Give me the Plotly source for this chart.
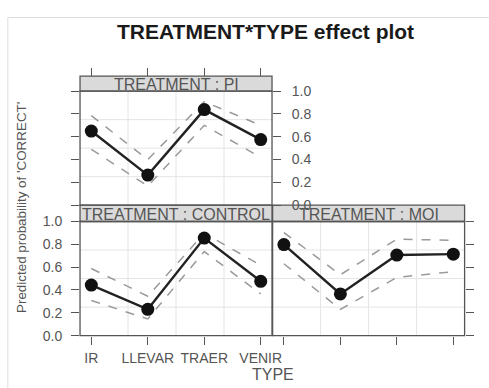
import plotly.graph_objects as go

# Effect estimates with 95% bands, per treatment and verb type
types = ["IR", "LLEVAR", "TRAER", "VENIR"]
type_pos = [1, 2, 3, 4]

pi_fit = [0.65, 0.264, 0.838, 0.575]
pi_upper = [0.785, 0.40, 0.908, 0.70]
pi_lower = [0.49, 0.168, 0.70, 0.42]

control_fit = [0.443, 0.23, 0.855, 0.476]
control_upper = [0.588, 0.345, 0.897, 0.616]
control_lower = [0.308, 0.146, 0.737, 0.365]

moi_fit = [0.798, 0.365, 0.706, 0.714]
moi_upper = [0.903, 0.533, 0.846, 0.835]
moi_lower = [0.63, 0.23, 0.51, 0.561]

y_ticks = [0.0, 0.2, 0.4, 0.6, 0.8, 1.0]

W, H = 489, 388
FONT = "Liberation Sans, Arial, sans-serif"
AX = "#555555"
TXT = "#555555"


def px(x):
    return x / W


def py(y):
    return 1 - y / H


# panel geometry in pixels
LX0, LX1 = 81.7, 277.7
RX0, RX1 = 278.3, 474.3
TOP_STRIP = (71.0, 86.7)
TOP_PANEL = (86.7, 205.7)
BOT_STRIP = (205.7, 222.7)
BOT_PANEL = (222.7, 341.7)

fig = go.Figure()


def add_panel(fit, upper, lower, xa, ya):
    for band in (upper, lower):
        fig.add_trace(go.Scatter(
            x=type_pos, y=band, mode="lines", xaxis=xa, yaxis=ya,
            line=dict(color="#9a9a9a", width=1.5, dash="dash"),
            hoverinfo="skip", showlegend=False))
    fig.add_trace(go.Scatter(
        x=type_pos, y=fit, mode="lines+markers", xaxis=xa, yaxis=ya,
        line=dict(color="#222222", width=2.4),
        marker=dict(color="#111111", size=13),
        showlegend=False))


add_panel(control_fit, control_upper, control_lower, "x", "y")
add_panel(moi_fit, moi_upper, moi_lower, "x2", "y2")
add_panel(pi_fit, pi_upper, pi_lower, "x3", "y3")

common_x = dict(range=[0.8, 4.2], tickvals=type_pos, ticktext=types,
                ticks="outside", ticklen=8, tickwidth=1.3, tickcolor=AX,
                showgrid=False, zeroline=False, showline=False,
                ticklabelstandoff=2,
                tickfont=dict(family=FONT, size=14, color=TXT))
common_y = dict(range=[0, 1], tickvals=y_ticks, tickformat=".1f",
                ticks="outside", ticklen=8, tickwidth=1.3, tickcolor=AX,
                showgrid=False, zeroline=False, showline=False,
                tickfont=dict(family=FONT, size=14, color=TXT))

fig.update_layout(
    width=W, height=H,
    margin=dict(l=0, r=0, t=0, b=0),
    paper_bgcolor="white", plot_bgcolor="white",
    xaxis=dict(common_x, domain=[px(LX0), px(LX1)], anchor="y"),
    yaxis=dict(common_y, domain=[py(BOT_PANEL[1]), py(BOT_PANEL[0])],
               anchor="x", side="left", ticklabelstandoff=6),
    xaxis2=dict(common_x, domain=[px(RX0), px(RX1)], anchor="y2",
                showticklabels=False),
    yaxis2=dict(common_y, domain=[py(BOT_PANEL[1]), py(BOT_PANEL[0])],
                anchor="x2", side="right", showticklabels=False),
    xaxis3=dict(common_x, domain=[px(LX0), px(LX1)], anchor="free",
                position=py(TOP_STRIP[0]), side="top", showticklabels=False),
    yaxis3=dict(common_y, domain=[py(TOP_PANEL[1]), py(TOP_PANEL[0])],
                anchor="x3", side="right", mirror="ticks",
                ticklabelstandoff=8),
)

shapes = []
# light background grid at quarter positions of each panel
for xa, ya in (("x", "y"), ("x2", "y2"), ("x3", "y3")):
    for f in (0.25, 0.5, 0.75):
        shapes.append(dict(type="line", xref=f"{xa} domain", yref=f"{ya} domain",
                           x0=f, x1=f, y0=0, y1=1, layer="below",
                           line=dict(color="#e4e4e4", width=1)))
        shapes.append(dict(type="line", xref=f"{xa} domain", yref=f"{ya} domain",
                           x0=0, x1=1, y0=f, y1=f, layer="below",
                           line=dict(color="#e4e4e4", width=1)))

# panel borders
for (x0, x1), (y0, y1) in (((LX0, LX1), BOT_PANEL), ((RX0, RX1), BOT_PANEL),
                           ((LX0, LX1), TOP_PANEL)):
    shapes.append(dict(type="rect", xref="paper", yref="paper",
                       x0=px(x0), x1=px(x1), y0=py(y1), y1=py(y0),
                       line=dict(color=AX, width=1.3)))

# strips
strips = [((LX0, LX1), TOP_STRIP, "TREATMENT : PI"),
          ((LX0, LX1), BOT_STRIP, "TREATMENT : CONTROL"),
          ((RX0, RX1), BOT_STRIP, "TREATMENT : MOI")]
annotations = []
for (x0, x1), (y0, y1), label in strips:
    shapes.append(dict(type="rect", xref="paper", yref="paper",
                       x0=px(x0), x1=px(x1), y0=py(y1), y1=py(y0),
                       fillcolor="#dadada", line=dict(color=AX, width=1.3),
                       layer="below"))
    annotations.append(dict(xref="paper", yref="paper",
                            x=px((x0 + x1) / 2), y=py((y0 + y1) / 2 + 0.8),
                            text=label, showarrow=False,
                            xanchor="center", yanchor="middle",
                            font=dict(family=FONT, size=16, color=TXT)))

# outer frame edges
shapes.append(dict(type="line", xref="paper", yref="paper",
                   x0=px(8), x1=1.05, y0=py(10), y1=py(10),
                   line=dict(color="#dddddd", width=1)))
shapes.append(dict(type="line", xref="paper", yref="paper",
                   x0=px(8), x1=px(8), y0=py(10), y1=-0.05,
                   line=dict(color="#dddddd", width=1)))

annotations += [
    dict(xref="paper", yref="paper", x=px(271), y=py(24.5),
         text="<b>TREATMENT*TYPE effect plot</b>", showarrow=False,
         xanchor="center", yanchor="middle",
         font=dict(family=FONT, size=21, color="#1a1a1a")),
    dict(xref="paper", yref="paper", x=px(22), y=py(208),
         text="Predicted probability of 'CORRECT'", showarrow=False,
         textangle=-90, xanchor="center", yanchor="middle",
         font=dict(family=FONT, size=13.4, color=TXT)),
    dict(xref="paper", yref="paper", x=px(279), y=py(382.5),
         text="TYPE", showarrow=False, xanchor="center", yanchor="middle",
         font=dict(family=FONT, size=16, color=TXT)),
]

fig.update_layout(shapes=shapes, annotations=annotations)
fig.write_html("out.html")
